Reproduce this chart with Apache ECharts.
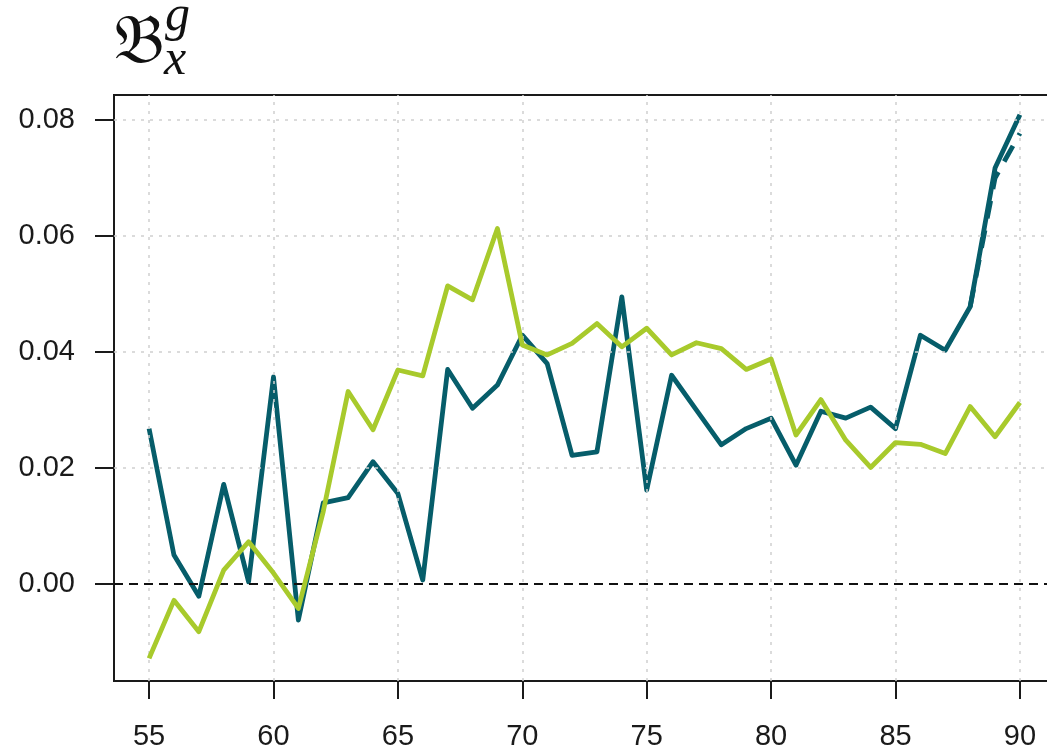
<!DOCTYPE html>
<html>
<head>
<meta charset="utf-8">
<script src="https://cdn.jsdelivr.net/npm/echarts@6/dist/echarts.min.js"></script>
<style>html,body{margin:0;padding:0;background:#fff;overflow:hidden;width:1047px;height:755px}#c{width:1090px;height:755px}</style>
</head>
<body>
<div id="c"></div>
<script>
const ages = [55,56,57,58,59,60,61,62,63,64,65,66,67,68,69,70,71,72,73,74,75,76,77,78,79,80,81,82,83,84,85,86,87,88,89,90];
const tealValues = [0.0268,0.0050,-0.0021,0.0172,0.0004,0.0357,-0.0062,0.0140,0.0149,0.0211,0.0156,0.0007,0.0370,0.0303,0.0343,0.0429,0.0380,0.0222,0.0228,0.0495,0.0162,0.0360,0.0300,0.0240,0.0268,0.0286,0.0205,0.0298,0.0286,0.0305,0.0268,0.0429,0.0403,0.0478,0.0717,0.0809];
const tealDashedValues = [null,null,null,null,null,null,null,null,null,null,null,null,null,null,null,null,null,null,null,null,null,null,null,null,null,null,null,null,null,null,null,null,null,0.0478,0.0700,0.0777];
const greenValues = [-0.0128,-0.0028,-0.0082,0.0024,0.0073,0.0019,-0.0042,0.0125,0.0332,0.0266,0.0369,0.0359,0.0514,0.0490,0.0613,0.0412,0.0395,0.0415,0.0449,0.0409,0.0441,0.0395,0.0416,0.0406,0.0370,0.0388,0.0257,0.0318,0.0248,0.0201,0.0244,0.0241,0.0225,0.0306,0.0254,0.0313];
const xTicks = [55,60,65,70,75,80,85,90];
const yTicks = [0,0.02,0.04,0.06,0.08];

const zip = (xs, ys) => xs.map((x, i) => [x, ys[i]]);
const TEAL = '#065d6a';
const GREEN = '#a8ca2c';
const INK = '#1a1a1a';
const FONT = 'Liberation Sans, Arial, sans-serif';

const chart = echarts.init(document.getElementById('c'), null, {renderer: 'canvas', width: 1090, height: 755});
chart.setOption({
  animation: false,
  backgroundColor: '#fff',
  grid: {left: 114, top: 95, width: 941, bottom: 74, show: true, borderColor: INK, borderWidth: 2, backgroundColor: 'transparent', containLabel: false},
  xAxis: {
    type: 'value', min: 53.59, max: 91.41,
    axisLine: {show: true, onZero: false, lineStyle: {color: INK, width: 2}},
    splitLine: {show: false},
    axisTick: {show: true, customValues: xTicks, length: 18, lineStyle: {color: INK, width: 2}},
    axisLabel: {customValues: xTicks, margin: 41, fontSize: 29, color: INK, fontFamily: FONT}
  },
  yAxis: {
    type: 'value', min: -0.0167, max: 0.0843,
    axisLine: {show: true, onZero: false, lineStyle: {color: INK, width: 2}},
    splitLine: {show: false},
    axisTick: {show: true, customValues: yTicks, length: 19, lineStyle: {color: INK, width: 2}},
    axisLabel: {customValues: yTicks, margin: 39, fontSize: 29, color: INK, fontFamily: FONT,
      formatter: v => v.toFixed(2)}
  },
  graphic: [
    {type: 'text', left: 114, top: 10, style: {text: '\u{1D505}', font: '70px "DejaVu Serif", "DejaVu Sans", serif', fill: '#111'}},
    {type: 'text', left: 165, top: -8, style: {text: 'g', font: 'italic 50px "Liberation Serif", "DejaVu Serif", serif', fill: '#111'}},
    {type: 'text', left: 164, top: 36, style: {text: 'x', font: 'italic 50px "Liberation Serif", "DejaVu Serif", serif', fill: '#111'}}
  ],
  series: [
    {
      type: 'line', data: [], silent: true, z: 1,
      markLine: {
        silent: true, symbol: 'none', label: {show: false}, animation: false,
        lineStyle: {color: '#cfcfcf', type: [3, 6], width: 1.5},
        data: xTicks.map(v => ({xAxis: v})).concat(yTicks.filter(v => v !== 0).map(v => ({yAxis: v})))
      }
    },
    {
      type: 'line', data: [], silent: true, z: 2,
      markLine: {
        silent: true, symbol: 'none', label: {show: false}, animation: false,
        lineStyle: {color: '#111', type: [9, 6], width: 1.8},
        data: [{yAxis: 0}]
      }
    },
    {
      name: 'dashed', type: 'line', data: zip(ages, tealDashedValues), showSymbol: false, z: 3,
      lineStyle: {color: TEAL, width: 4.8, type: [18, 12]}, connectNulls: false
    },
    {
      name: 'teal', type: 'line', data: zip(ages, tealValues), showSymbol: false, z: 4,
      lineStyle: {color: TEAL, width: 4.8, join: 'round'}
    },
    {
      name: 'green', type: 'line', data: zip(ages, greenValues), showSymbol: false, z: 5,
      lineStyle: {color: GREEN, width: 4.8, join: 'round'}
    }
  ]
});
</script>
</body>
</html>
